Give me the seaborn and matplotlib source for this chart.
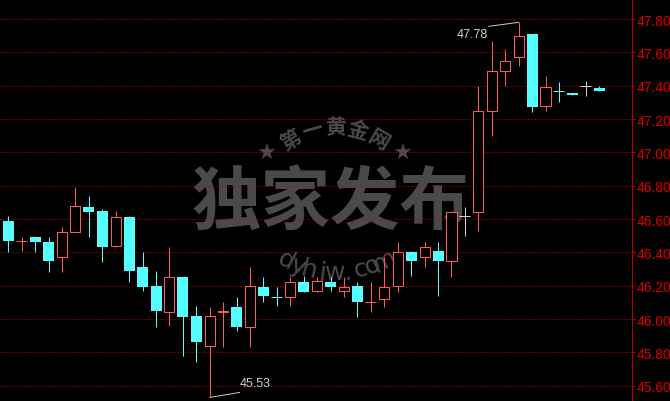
import matplotlib
matplotlib.use("Agg")
import matplotlib.pyplot as plt
import numpy as np
import pandas as pd
import seaborn as sns

# ---------------- data ----------------
positions = list(range(-1, 45))
opens = [46.600, 46.59, 46.468, 46.49, 46.46, 46.37, 46.52, 46.67, 46.65, 46.44,
         46.61, 46.31, 46.20, 46.04, 46.25, 46.02, 45.84, 46.04, 46.07, 45.95,
         46.19, 46.132, 46.13, 46.22, 46.17, 46.22, 46.17, 46.20, 46.098, 46.12,
         46.20, 46.40, 46.37, 46.41, 46.35, 46.62, 46.64, 47.25, 47.49, 47.57,
         47.71, 47.28, 47.372, 47.356, 47.40, 47.386]
highs = [46.60, 46.62, 46.49, 46.49, 46.49, 46.55, 46.79, 46.74, 46.66, 46.65,
         46.62, 46.40, 46.29, 46.43, 46.25, 46.08, 46.07, 46.10, 46.13, 46.31,
         46.25, 46.19, 46.25, 46.26, 46.25, 46.25, 46.25, 46.22, 46.22, 46.37,
         46.46, 46.41, 46.46, 46.46, 46.65, 46.67, 47.40, 47.67, 47.62, 47.78,
         47.71, 47.46, 47.42, 47.356, 47.43, 47.40]
lows = [46.60, 46.40, 46.41, 46.40, 46.28, 46.28, 46.52, 46.49, 46.34, 46.43,
        46.22, 46.17, 45.95, 45.96, 45.78, 45.74, 45.53, 45.83, 45.93, 45.83,
        46.10, 46.08, 46.08, 46.16, 46.16, 46.17, 46.13, 46.01, 46.04, 46.07,
        46.16, 46.26, 46.31, 46.14, 46.25, 46.50, 46.53, 47.10, 47.40, 47.52,
        47.24, 47.25, 47.30, 47.344, 47.34, 47.368]
closes = [46.602, 46.47, 46.470, 46.46, 46.35, 46.52, 46.68, 46.64, 46.43, 46.61,
          46.29, 46.19, 46.05, 46.25, 46.01, 45.86, 46.02, 46.05, 45.95, 46.20,
          46.14, 46.130, 46.22, 46.16, 46.23, 46.19, 46.19, 46.10, 46.100, 46.19,
          46.40, 46.35, 46.43, 46.35, 46.64, 46.62, 47.25, 47.49, 47.55, 47.70,
          47.27, 47.39, 47.370, 47.344, 47.40, 47.368]
ytick_values = [45.60, 45.80, 46.00, 46.20, 46.40, 46.60, 46.80, 47.00, 47.20, 47.40, 47.60, 47.80]
ytick_labels = ["45.60", "45.80", "46.00", "46.20", "46.40", "46.60",
                "46.80", "47.00", "47.20", "47.40", "47.60", "47.80"]
high_label = "47.78"
low_label = "45.53"
watermark_main = "独家发布"
watermark_top = "第一黄金网"
watermark_url = "dyhjw.com"

UP = "#ff5858"
DOWN = "#55ffff"
FLAT = "#d4d4d4"
GRID = "#c80000"
AXIS = "#b80000"
TICKTXT = "#d80000"
WM = "#4a4a4a"

sns.set_theme(style="dark", rc={"figure.facecolor": "black", "axes.facecolor": "black"})
plt.rcParams["font.family"] = ["Liberation Sans", "Noto Sans CJK SC", "DejaVu Sans"]

df = pd.DataFrame(dict(pos=positions, open=opens, high=highs, low=lows, close=closes))
df["color"] = np.where(df.close > df.open, UP, np.where(df.close < df.open, DOWN, FLAT))

W, H = 670, 402
fig = plt.figure(figsize=(W / 100, H / 100), dpi=100)
fig.patch.set_facecolor("black")
ax = fig.add_axes([0, 0, 632 / W, 1])
ax.set_facecolor("black")
ax.set_xlim(-0.618, 46.44)
ax.set_ylim(45.5085, 47.92)

PX = 0.72  # one pixel in points

# wicks
ax.vlines(df.pos, df.low, df.high, colors=df.color, linewidth=PX, zorder=2)
# bodies
body = (df.close - df.open).abs()
thin = body < 0.005
up = (~thin) & (df.close > df.open)
dn = (~thin) & (df.close < df.open)
ax.bar(df.pos[up], body[up], bottom=df.open[up], width=0.75,
       facecolor="black", edgecolor=UP, linewidth=PX, zorder=3)
ax.bar(df.pos[dn], body[dn], bottom=df.close[dn], width=0.82,
       color=DOWN, linewidth=0, zorder=3)
ax.hlines(df.close[thin], df.pos[thin] - 0.41, df.pos[thin] + 0.41,
          colors=df.color[thin], linewidth=PX, zorder=3)

# axis styling
ax.yaxis.tick_right()
ax.set_yticks(ytick_values, ytick_labels)
ax.tick_params(axis="y", colors=AXIS, labelcolor=TICKTXT, length=2, width=PX,
               pad=1, labelsize=10, right=True, left=False)
ax.tick_params(axis="x", bottom=False, labelbottom=False)
ax.grid(axis="y", color=GRID, linestyle=(0, (1, 2)), linewidth=PX)
ax.grid(axis="x", visible=False)
ax.set_axisbelow(True)
for s in ["left", "top", "bottom"]:
    ax.spines[s].set_visible(False)
ax.spines["right"].set_color(AXIS)
ax.spines["right"].set_linewidth(PX)

# high / low annotations
line_kw = dict(arrowstyle="-", color="#c8c8c8", lw=PX, shrinkA=0, shrinkB=0)
i_hi = df.high.idxmax()
i_lo = df.low.idxmin()
hi_xy = (df.pos[i_hi], df.high[i_hi])
lo_xy = (df.pos[i_lo], df.low[i_lo])
ax.annotate("", xy=hi_xy, xytext=(-30, -4), textcoords="offset pixels", arrowprops=line_kw, zorder=4)
ax.annotate(high_label, xy=hi_xy, xytext=(-31, -12), textcoords="offset pixels",
            ha="right", va="center", color="#c8d0dc", fontsize=9, zorder=4)
ax.annotate("", xy=lo_xy, xytext=(30, 5), textcoords="offset pixels", arrowprops=line_kw, zorder=4)
ax.annotate(low_label, xy=lo_xy, xytext=(30, 14), textcoords="offset pixels",
            ha="left", va="center", color="#c8d0dc", fontsize=9, zorder=4)

# watermark (drawn beneath grid and candles)
def figxy(x, y):
    return (x / W, 1 - y / H)

ax.text(*figxy(331, 205), watermark_main, transform=fig.transFigure, ha="center", va="center",
        fontsize=50, fontweight="bold", family=["Noto Sans CJK SC"], color=WM, zorder=0.2)

cx, cy, r = 335, 213, 85
for ch, a in zip(watermark_top, np.linspace(-31, 31, len(watermark_top))):
    t = np.radians(a)
    ax.text(*figxy(cx + r * np.sin(t), cy - r * np.cos(t)), ch, transform=fig.transFigure,
            ha="center", va="center", rotation=-a, rotation_mode="anchor",
            fontsize=15, fontweight="bold", family=["Noto Sans CJK SC"], color=WM, zorder=0.2)
for sx in (267, 403):
    ax.text(*figxy(sx, 154), "★", transform=fig.transFigure, ha="center", va="center",
            fontsize=16, family=["DejaVu Sans"], color=WM, zorder=0.2)

cx2, cy2, r2 = 335, 168, 105
for ch, a in zip(watermark_url, np.linspace(-28, 28, len(watermark_url))):
    t = np.radians(a)
    ax.text(*figxy(cx2 + r2 * np.sin(t), cy2 + r2 * np.cos(t)), ch, transform=fig.transFigure,
            ha="center", va="center", rotation=a, rotation_mode="anchor",
            fontsize=18, family=["DejaVu Sans"], color=WM, zorder=0.2)

fig.savefig("out.png", dpi=100, facecolor="black")
